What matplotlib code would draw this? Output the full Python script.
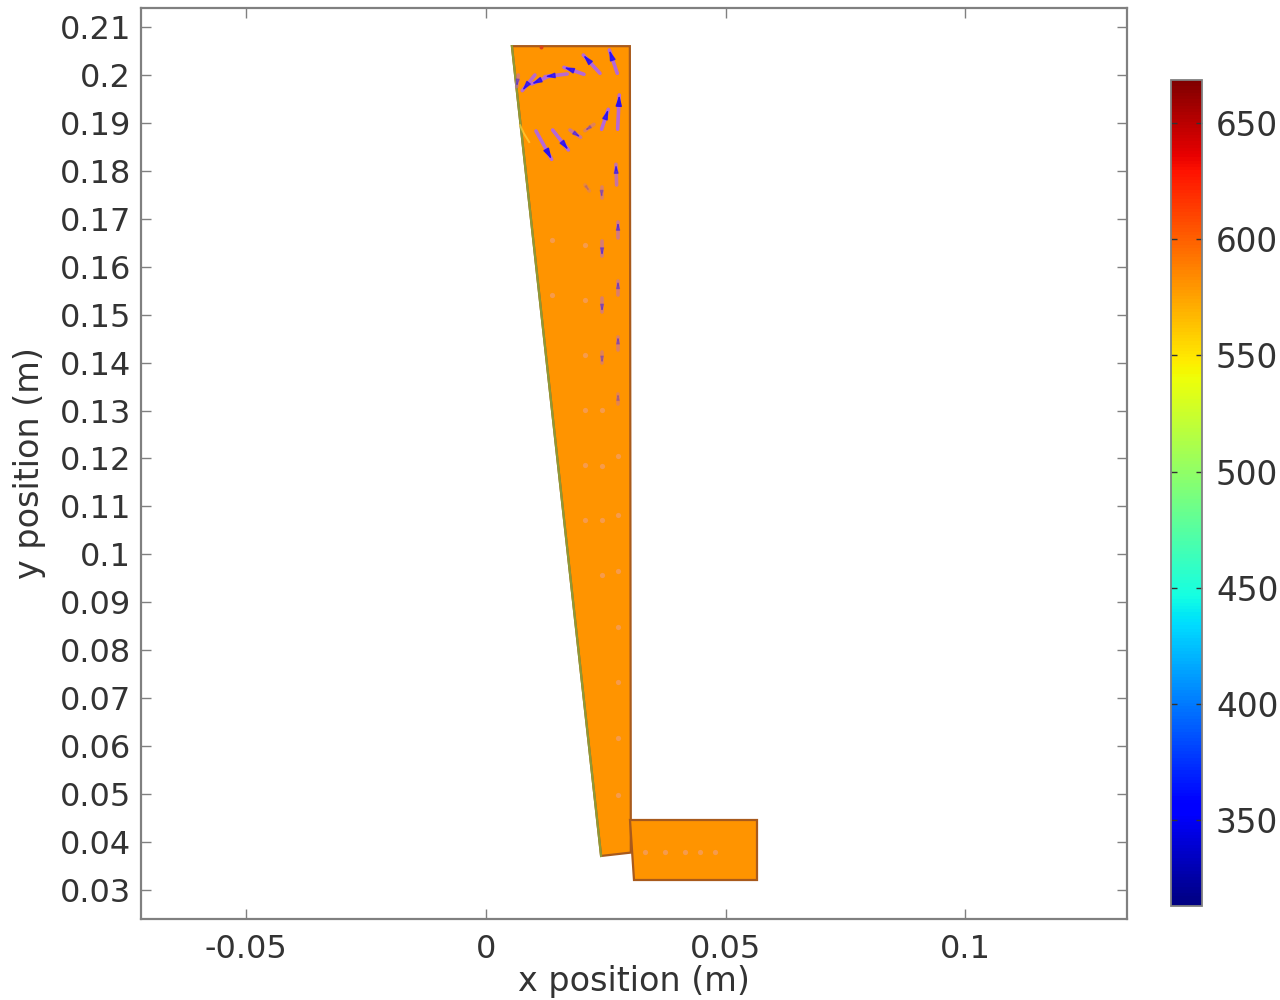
import matplotlib
matplotlib.use("Agg")
from matplotlib import pyplot as plt
from matplotlib.cm import ScalarMappable
from matplotlib.colors import Normalize

# === DATA ===
T_MIN, T_MAX = 313, 668.5
T_FIELD = 581

tube_x = [0.0054, 0.0300, 0.0302, 0.0240]
tube_y = [0.2060, 0.2060, 0.0378, 0.0371]
box_x = [0.0300, 0.0565, 0.0565, 0.0309]
box_y = [0.0446, 0.0446, 0.0321, 0.0321]
cold_edge_x = [0.0054, 0.0240]
cold_edge_y = [0.2060, 0.0371]
streak_x = [0.0071, 0.0079, 0.0090]
streak_y = [0.1895, 0.1878, 0.1860]
hot_spot_x = [0.0115]
hot_spot_y = [0.2058]

xticks = [-0.05, 0, 0.05, 0.1]
xtick_labels = ["-0.05", "0", "0.05", "0.1"]
yticks = [0.03, 0.04, 0.05, 0.06, 0.07, 0.08, 0.09, 0.10, 0.11, 0.12,
          0.13, 0.14, 0.15, 0.16, 0.17, 0.18, 0.19, 0.20, 0.21]
ytick_labels = ["0.03", "0.04", "0.05", "0.06", "0.07", "0.08", "0.09", "0.1", "0.11", "0.12",
                "0.13", "0.14", "0.15", "0.16", "0.17", "0.18", "0.19", "0.2", "0.21"]
cbar_ticks = [350, 400, 450, 500, 550, 600, 650]

# velocity arrows: tail position, components, strength
arrow_x = [0.02738, 0.02377, 0.02043, 0.01695, 0.01334, 0.01020, 0.00674, 0.02745, 0.02411,
           0.02251, 0.01751, 0.01390, 0.01042, 0.02724, 0.02411, 0.02064,
           0.02753, 0.02753, 0.02753, 0.02753, 0.02420, 0.02420, 0.02420]
arrow_y = [0.20033, 0.20033, 0.20013, 0.20020, 0.19985, 0.19999, 0.19999, 0.18866, 0.18866,
           0.18970, 0.18852, 0.18852, 0.18831, 0.17705, 0.17670, 0.17705,
           0.16600, 0.15400, 0.14270, 0.13130, 0.16530, 0.15340, 0.14220]
arrow_u = [-0.00167, -0.00348, -0.00417, -0.00466, -0.00382, -0.00264, -0.00035, 0.00035, 0.00139,
           -0.00188, 0.00222, 0.00327, 0.00327, -0.00014, 0.0, 0.0009,
           0.0, 0.0, 0.0, 0.0, 0.0, 0.0, 0.0]
arrow_v = [0.00487, 0.00382, 0.00146, -0.00056, -0.00174, -0.00327, -0.00243, 0.00716, 0.00417,
           -0.00132, -0.00153, -0.00417, -0.00591, 0.00431, -0.00229, -0.00125,
           0.00330, 0.00300, 0.00270, 0.00220, -0.00300, -0.00280, -0.00230]
arrow_strength = [0.9, 0.9, 0.85, 0.8, 0.85, 0.8, 0.35, 1.0, 0.85,
                  0.25, 0.5, 0.85, 1.0, 0.6, 0.3, 0.12,
                  0.45, 0.35, 0.3, 0.2, 0.4, 0.35, 0.25]

# faint near-zero arrows, drawn as specks
speck_x = [0.02753, 0.02753, 0.02753, 0.02753, 0.02753, 0.02753, 0.02753,
           0.0242, 0.0242, 0.0242, 0.0242,
           0.02065, 0.02065, 0.02065, 0.02065, 0.02065, 0.02065,
           0.01377, 0.01377, 0.0332, 0.0373, 0.0415, 0.0446, 0.0478]
speck_y = [0.1205, 0.1082, 0.0965, 0.0848, 0.0734, 0.0617, 0.0498,
           0.1301, 0.1184, 0.1072, 0.0957,
           0.1645, 0.1530, 0.1416, 0.1301, 0.1186, 0.1072,
           0.1656, 0.1541, 0.0379, 0.0379, 0.0379, 0.0379, 0.0379]

# === Plotting ===
plt.rcParams["font.family"] = "DejaVu Sans"
TEXT = "#333333"
FRAME = "#808080"

cmap = plt.get_cmap("jet")
norm = Normalize(T_MIN, T_MAX)
field_colour = cmap(norm(T_FIELD))
edge_colour = "#a85a1c"

fig = plt.figure(figsize=(12.8, 10), dpi=100)
ax = fig.add_axes([141 / 1280, 1 - 919 / 1000, 986 / 1280, 911 / 1000])

ax.fill(tube_x, tube_y, facecolor=field_colour, edgecolor=edge_colour, linewidth=1.6, zorder=2)
ax.fill(box_x, box_y, facecolor=field_colour, edgecolor=edge_colour, linewidth=1.6, zorder=2)
ax.plot(cold_edge_x, cold_edge_y, color="#8f9a35", linewidth=1.6, zorder=3)
ax.plot(streak_x, streak_y, color="#ffd23a", linewidth=1.4, alpha=0.7, zorder=3)
ax.scatter(hot_spot_x, hot_spot_y, s=8, color="#d8401a", linewidths=0, zorder=4)

ax.scatter(speck_x, speck_y, s=14, color="#f0a080", alpha=0.6, linewidths=0, zorder=4)

# shaft first, then blue tip on top of it
for x, y, u, v, s in zip(arrow_x, arrow_y, arrow_u, arrow_v, arrow_strength):
    ax.plot([x, x + u], [y, y + v], color="#b568d8", alpha=min(1, s + 0.15), linewidth=2.6,
            solid_capstyle="round", zorder=5)
    ax.annotate("", xy=(x + u, y + v), xytext=(x + 0.7 * u, y + 0.7 * v),
                arrowprops=dict(arrowstyle="-|>,head_length=0.7,head_width=0.2", color="#2a10f0",
                                alpha=s, linewidth=1.0, shrinkA=0, shrinkB=0,
                                mutation_scale=3 + 6 * s), zorder=6)

ax.set_xlim(-0.07197, 0.1337)
ax.set_ylim(0.02395, 0.21396)
ax.set_xticks(xticks, xtick_labels)
ax.set_yticks(yticks, ytick_labels)
ax.tick_params(direction="in", top=True, right=True, length=7, width=1, color=FRAME,
               labelsize=23, labelcolor=TEXT, pad=7)
ax.tick_params(axis="x", pad=11)
ax.set_xlabel("x position (m)", fontsize=24, color=TEXT, labelpad=0)
ax.set_ylabel("y position (m)", fontsize=24, color=TEXT, labelpad=10)
for spine in ax.spines.values():
    spine.set_color(FRAME)
    spine.set_linewidth(1.6)

# === Colour bar ===
cax = fig.add_axes([1171 / 1280, 1 - 906 / 1000, 31 / 1280, 826 / 1000])
cbar = fig.colorbar(ScalarMappable(norm=norm, cmap=cmap), cax=cax)
cbar.set_ticks(cbar_ticks)
cax.tick_params(direction="in", left=True, right=True, length=4, width=1, color="#333333",
                labelsize=23.5, labelcolor=TEXT, pad=10)
cbar.outline.set_edgecolor(FRAME)
cbar.outline.set_linewidth(1.3)

plt.savefig("out.png", dpi=100)
